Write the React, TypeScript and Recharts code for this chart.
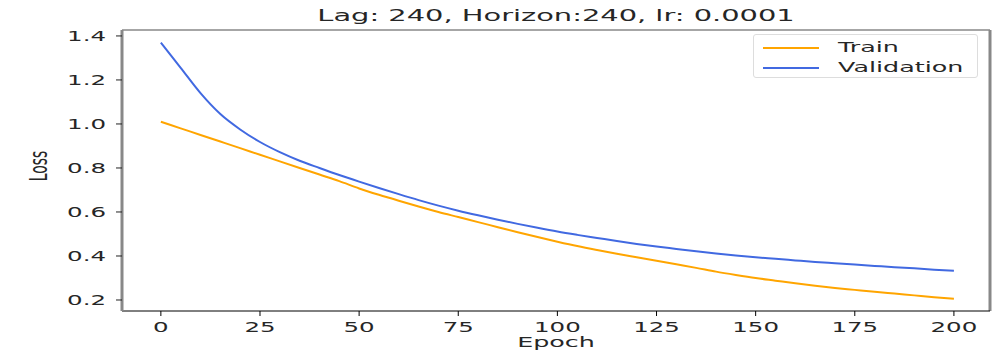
import React from 'react';
import { LineChart, Line, XAxis, YAxis, ReferenceLine } from 'recharts';

const epochs = [
  0, 5, 10, 15, 20, 25, 30, 35, 40, 45, 50, 55, 60, 65, 70, 75, 80, 85, 90, 95, 100,
  105, 110, 115, 120, 125, 130, 135, 140, 145, 150, 155, 160, 165, 170, 175, 180, 185, 190, 195, 200,
];
const trainLoss = [
  1.01, 0.98, 0.95, 0.92, 0.89, 0.86, 0.83, 0.8, 0.77, 0.74, 0.707, 0.678, 0.651, 0.625, 0.6, 0.577,
  0.554, 0.531, 0.508, 0.486, 0.465, 0.445, 0.427, 0.41, 0.394, 0.378, 0.362, 0.346, 0.329, 0.314,
  0.3, 0.288, 0.276, 0.265, 0.255, 0.246, 0.237, 0.229, 0.221, 0.213, 0.206,
];
const valLoss = [
  1.37, 1.255, 1.14, 1.045, 0.975, 0.918, 0.872, 0.833, 0.8, 0.768, 0.738, 0.709, 0.681, 0.654, 0.629,
  0.606, 0.585, 0.565, 0.546, 0.528, 0.511, 0.496, 0.482, 0.468, 0.455, 0.443, 0.432, 0.421, 0.411,
  0.402, 0.394, 0.387, 0.38, 0.373, 0.367, 0.361, 0.355, 0.349, 0.344, 0.338, 0.333,
];
const xTicks = [0, 25, 50, 75, 100, 125, 150, 175, 200];
const yTicks = [0.2, 0.4, 0.6, 0.8, 1.0, 1.2, 1.4];
const series = [
  { key: 'train', name: 'Train', color: '#FFA500' },
  { key: 'val', name: 'Validation', color: '#4169E1' },
];

const data = epochs.map((e, i) => ({ epoch: e, train: trainLoss[i], val: valLoss[i] }));

const font = '"DejaVu Sans", sans-serif';
const SX = 1.75; // the reference text is stretched sideways
const textColor = '#262626';

const XTick = (props: any) => {
  const { x, y, payload } = props;
  return (
    <text
      transform={`translate(${x},${y + 9}) scale(${SX},1)`}
      textAnchor="middle"
      fontFamily={font}
      fontSize={14}
      fill={textColor}
      dy="0.35em"
    >
      {payload.value}
    </text>
  );
};

const YTick = (props: any) => {
  const { x, y, payload } = props;
  return (
    <text
      transform={`translate(${x - 8},${y}) scale(${SX},1)`}
      textAnchor="end"
      fontFamily={font}
      fontSize={14}
      fill={textColor}
      dy="0.35em"
    >
      {Number(payload.value).toFixed(1)}
    </text>
  );
};

const stretched = (extra: React.CSSProperties = {}): React.CSSProperties => ({
  position: 'absolute',
  fontFamily: font,
  color: textColor,
  whiteSpace: 'nowrap',
  ...extra,
});

export default function App() {
  return (
    <div style={{ position: 'absolute', left: 0, top: 0, width: 1005, height: 353, background: 'white' }}>
      <div
        style={stretched({
          left: 556,
          top: 15,
          fontSize: 16.5,
          transform: `translate(-50%, -50%) scaleX(${SX})`,
        })}
      >
        Lag: 240, Horizon:240, lr: 0.0001
      </div>
      <div
        style={stretched({
          left: 38,
          top: 166,
          fontSize: 14,
          transform: `translate(-50%, -50%) scaleX(${SX}) rotate(-90deg)`,
        })}
      >
        Loss
      </div>
      <div
        style={stretched({
          left: 556,
          top: 342,
          fontSize: 14.5,
          transform: `translate(-50%, -50%) scaleX(${SX})`,
        })}
      >
        Epoch
      </div>
      <LineChart width={1005} height={353} data={data} margin={{ top: 30, right: 15, bottom: 0, left: 62 }}>
        <XAxis
          dataKey="epoch"
          type="number"
          domain={[-9.8, 209.1]}
          ticks={xTicks}
          allowDataOverflow
          height={42}
          stroke="#000"
          tickSize={5}
          tick={<XTick />}
        />
        <YAxis
          type="number"
          domain={[0.15, 1.427]}
          ticks={yTicks}
          allowDataOverflow
          width={60}
          stroke="#888"
          axisLine={{ stroke: '#888', strokeWidth: 3 }}
          tickLine={{ stroke: '#222' }}
          tickSize={6}
          tick={<YTick />}
        />
        <ReferenceLine y={1.427} stroke="#888" strokeWidth={1.5} />
        <ReferenceLine x={209.1} stroke="#888" strokeWidth={3} />
        {series.map((s) => (
          <Line
            key={s.key}
            dataKey={s.key}
            name={s.name}
            stroke={s.color}
            strokeWidth={2}
            dot={false}
            isAnimationActive={false}
            type="monotone"
          />
        ))}
      </LineChart>
      {/* legend box, top right of plot */}
      <div
        style={{
          position: 'absolute',
          left: 753,
          top: 34,
          width: 225,
          height: 44,
          border: '1px solid #ddd',
          borderRadius: 3,
          background: 'white',
          boxSizing: 'border-box',
          paddingTop: 2,
        }}
      >
        {series.map((it) => (
          <div key={it.key} style={{ position: 'relative', height: 20 }}>
            <div style={{ position: 'absolute', left: 9, top: 10, width: 56, height: 2, background: it.color }} />
            <div
              style={stretched({
                left: 84,
                top: 10,
                fontSize: 14.5,
                transformOrigin: 'left center',
                transform: `translateY(-50%) scaleX(${SX})`,
              })}
            >
              {it.name}
            </div>
          </div>
        ))}
      </div>
    </div>
  );
}
